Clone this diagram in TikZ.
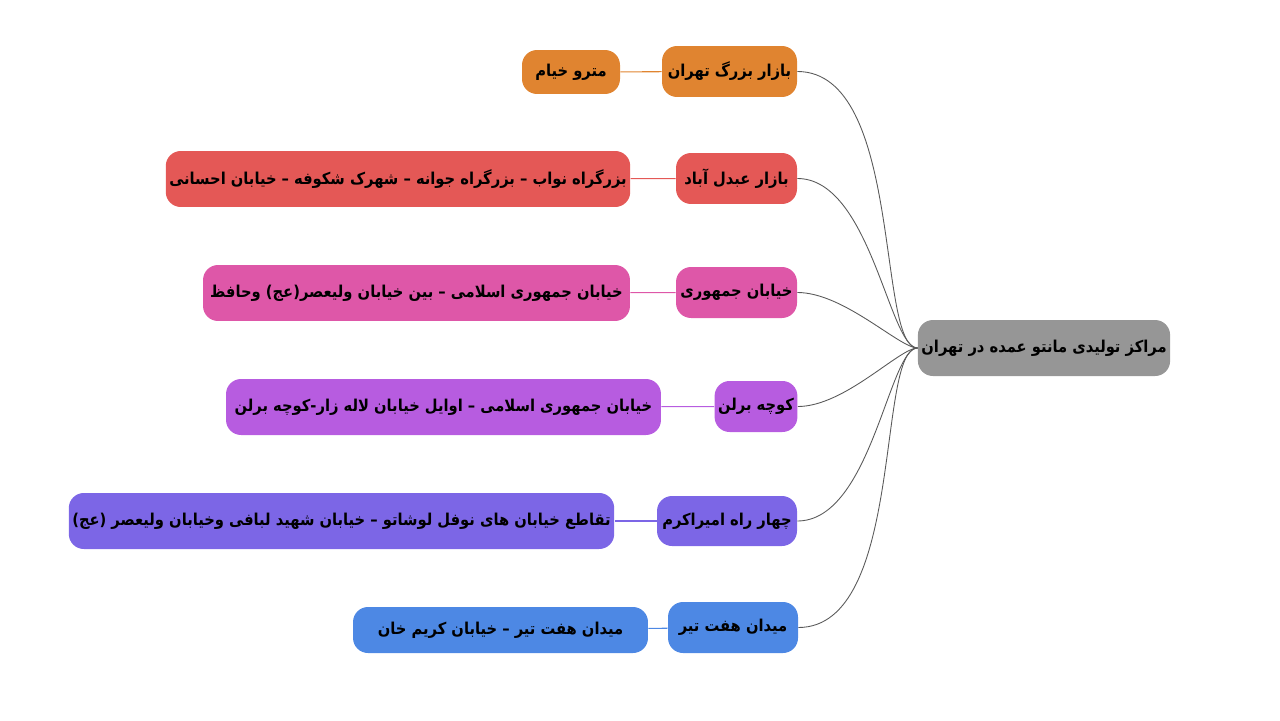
\documentclass[tikz,border=0pt]{standalone}
\usepackage{fontspec}
\TeXXeTstate=1
\newfontfamily\fafont[Script=Arabic]{DejaVu Sans Condensed}
\usetikzlibrary{positioning}
\definecolor{rootgray}{RGB}{150,150,150}
\definecolor{orangeB}{RGB}{224,132,48}
\definecolor{redB}{RGB}{228,88,86}
\definecolor{pinkB}{RGB}{222,87,168}
\definecolor{purpleB}{RGB}{183,92,224}
\definecolor{violetB}{RGB}{124,102,230}
\definecolor{blueB}{RGB}{77,136,228}
\newcommand{\fa}[1]{\fafont\bfseries\beginR #1\endR}

\begin{document}
\begin{tikzpicture}[x=0.02cm, y=-0.02cm,
  topic/.style={rounded corners=0.3cm, inner sep=2pt, text=black,
                font=\fontsize{9.3}{11}\selectfont},
  link/.style={draw=black!65, line width=0.5pt, out=0, in=180,
               out looseness=0.9, in looseness=0.35},
  leaflink/.style={line width=0.6pt}]

\useasboundingbox (0,0) rectangle (1280,720);

\node[topic, fill=rootgray, minimum width=5cm, minimum height=1.12cm] (root) at (1044,348) {\fa{مراکز تولیدی مانتو عمده در تهران}};

\node[topic, fill=orangeB, minimum width=2.7cm, minimum height=1.02cm] (bazar) at (729.5,71.5) {\fa{بازار بزرگ تهران}};
\node[topic, fill=redB, minimum width=2.42cm, minimum height=1.02cm] (abdol) at (736.5,178.5) {\fa{بازار عبدل آباد}};
\node[topic, fill=pinkB, minimum width=2.42cm, minimum height=1.02cm] (jomhuri) at (736.5,292.5) {\fa{خیابان جمهوری}};
\node[topic, fill=purpleB, minimum width=1.64cm, minimum height=1.02cm] (berlin) at (756,406.5) {\fa{کوچه برلن}};
\node[topic, fill=violetB, minimum width=2.8cm, minimum height=1.0cm] (amir) at (727,521) {\fa{چهار راه امیراکرم}};
\node[topic, fill=blueB, minimum width=2.6cm, minimum height=1.02cm] (haft) at (733,627.5) {\fa{میدان هفت تیر}};

\node[topic, fill=orangeB, minimum width=1.96cm, minimum height=0.88cm] (bazarL) at (571,72) {\fa{مترو خیام}};
\node[topic, fill=redB, minimum width=9.28cm, minimum height=1.12cm] (abdolL) at (398,179) {\fa{بزرگراه نواب – بزرگراه جوانه – شهرک شکوفه – خیابان احسانی}};
\node[topic, fill=pinkB, minimum width=8.54cm, minimum height=1.12cm] (jomhuriL) at (416.5,293) {\fa{خیابان جمهوری اسلامی – بین خیابان ولیعصر(عج) وحافظ}};
\node[topic, fill=purpleB, minimum width=8.7cm, minimum height=1.12cm] (berlinL) at (443.5,407) {\fa{خیابان جمهوری اسلامی – اوایل خیابان لاله زار-کوچه برلن}};
\node[topic, fill=violetB, minimum width=10.9cm, minimum height=1.12cm] (amirL) at (341.5,521) {\fa{تقاطع خیابان های نوفل لوشاتو – خیابان شهید لبافی وخیابان ولیعصر (عج)}};
\node[topic, fill=blueB, minimum width=5.9cm, minimum height=0.92cm] (haftL) at (500.5,630) {\fa{میدان هفت تیر – خیابان کریم خان}};

\draw[link] (bazar.east) to (root.west);
\draw[link] (abdol.east) to (root.west);
\draw[link] (jomhuri.east) to (root.west);
\draw[link] (berlin.east) to (root.west);
\draw[link] (amir.east) to (root.west);
\draw[link] (haft.east) to (root.west);

\draw[leaflink, draw=orangeB] (bazar) -- (bazarL);
\draw[leaflink, draw=redB] (abdol) -- (abdolL);
\draw[leaflink, draw=pinkB] (jomhuri) -- (jomhuriL);
\draw[leaflink, draw=purpleB] (berlin) -- (berlinL);
\draw[leaflink, draw=violetB] (amir) -- (amirL);
\draw[leaflink, draw=blueB] (haft) -- (haftL);
\end{tikzpicture}
\end{document}
